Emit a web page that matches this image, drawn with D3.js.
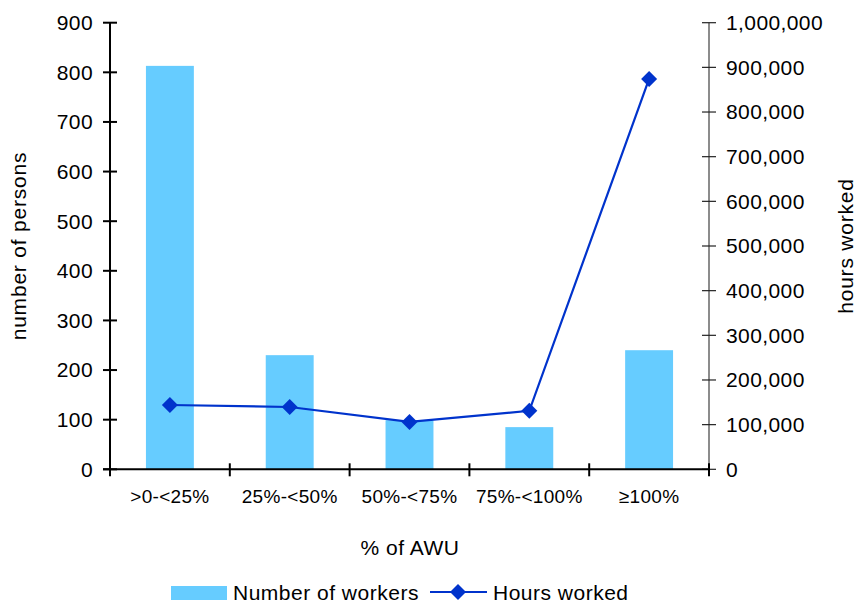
<!DOCTYPE html>
<html>
<head>
<meta charset="utf-8">
<script src="https://cdn.jsdelivr.net/npm/d3@7"></script>
<style>
  body { margin: 0; background: #fff; }
  svg text { font-family: "Liberation Sans", Arial, Helvetica, sans-serif; fill: #000; }
</style>
</head>
<body>
<div class="chart"></div>
<script>
var width = 861;
var height = 603;

// data
var categories = [">0-<25%", "25%-<50%", "50%-<75%", "75%-<100%", "\u2265100%"];
var workers = [813, 230, 99, 85, 240];
var hours = [144000, 139500, 106000, 131000, 874000];
var leftTicks = [0, 100, 200, 300, 400, 500, 600, 700, 800, 900];
var rightTicks = [0, 100000, 200000, 300000, 400000, 500000, 600000, 700000, 800000, 900000, 1000000];

var plot = { left: 110, right: 709, top: 22.7, bottom: 469.3 };

var svg = d3.select(".chart").append("svg").attr("width", width).attr("height", height);

var x = d3.scaleBand()
	.domain(categories)
	.range([plot.left, plot.right])
	.paddingInner(0.6)
	.paddingOuter(0.3);

var yLeft = d3.scaleLinear().domain([0, 900]).range([plot.bottom, plot.top]);
var yRight = d3.scaleLinear().domain([0, 1000000]).range([plot.bottom, plot.top]);

// small helper so all labels share the same look
function label(sel, size, spacing) {
	return sel.style("font-size", size + "px").style("letter-spacing", spacing + "px");
}

// bars
svg.selectAll("rect.bar")
	.data(workers)
	.enter().append("rect")
	.attr("class", "bar")
	.attr("x", function(d, i) { return x(categories[i]); })
	.attr("y", function(d) { return yLeft(d); })
	.attr("width", x.bandwidth())
	.attr("height", function(d) { return yLeft(0) - yLeft(d); })
	.attr("fill", "#66ccff");

// right axis (grey line, ticks crossing)
var rightG = svg.append("g").attr("transform", "translate(" + plot.right + ",0)");
rightG.append("line")
	.attr("y1", yRight(0)).attr("y2", yRight(1000000))
	.attr("stroke", "#666").attr("stroke-width", 1.5);
rightG.selectAll("line.tick").data(rightTicks).enter().append("line")
	.attr("x1", -7).attr("x2", 7)
	.attr("y1", function(d) { return yRight(d); })
	.attr("y2", function(d) { return yRight(d); })
	.attr("stroke", "#222").attr("stroke-width", 1.2);
label(rightG.selectAll("text").data(rightTicks).enter().append("text"), 21, 0.4)
	.attr("x", 17)
	.attr("y", function(d) { return yRight(d); })
	.attr("dy", "0.35em")
	.text(d3.format(","));

// left axis
var leftG = svg.append("g").attr("transform", "translate(" + plot.left + ",0)");
leftG.append("line")
	.attr("y1", yLeft(0)).attr("y2", yLeft(900))
	.attr("stroke", "#000").attr("stroke-width", 2);
leftG.selectAll("line.tick").data(leftTicks).enter().append("line")
	.attr("x1", -7).attr("x2", 7)
	.attr("y1", function(d) { return yLeft(d); })
	.attr("y2", function(d) { return yLeft(d); })
	.attr("stroke", "#000").attr("stroke-width", 2);
label(leftG.selectAll("text").data(leftTicks).enter().append("text"), 21, 0.4)
	.attr("x", -17)
	.attr("y", function(d) { return yLeft(d); })
	.attr("dy", "0.35em")
	.attr("text-anchor", "end")
	.text(function(d) { return d; });

// x axis
var step = x.step();
var bounds = d3.range(categories.length + 1).map(function(i) { return plot.left + i * step; });
svg.append("line")
	.attr("x1", plot.left - 7).attr("x2", plot.right)
	.attr("y1", plot.bottom).attr("y2", plot.bottom)
	.attr("stroke", "#000").attr("stroke-width", 2);
svg.selectAll("line.xtick").data(bounds).enter().append("line")
	.attr("x1", function(d) { return d; }).attr("x2", function(d) { return d; })
	.attr("y1", plot.bottom - 6).attr("y2", plot.bottom + 7)
	.attr("stroke", "#000").attr("stroke-width", 2);
label(svg.selectAll("text.xlabel").data(categories).enter().append("text"), 19, 0.3)
	.attr("x", function(d) { return x(d) + x.bandwidth() / 2; })
	.attr("y", 503)
	.attr("text-anchor", "middle")
	.text(function(d) { return d; });

// hours line
var line = d3.line()
	.x(function(d, i) { return x(categories[i]) + x.bandwidth() / 2; })
	.y(function(d) { return yRight(d); });
svg.append("path")
	.datum(hours)
	.attr("d", line)
	.attr("fill", "none")
	.attr("stroke", "#0033cc")
	.attr("stroke-width", 2.2);
svg.selectAll("path.marker").data(hours).enter().append("path")
	.attr("d", d3.symbol(d3.symbolSquare, 128))
	.attr("transform", function(d, i) {
		return "translate(" + (x(categories[i]) + x.bandwidth() / 2) + "," + yRight(d) + ") rotate(45)";
	})
	.attr("fill", "#0033cc");

// axis titles
label(svg.append("text"), 21, 0.8)
	.attr("transform", "translate(26,246) rotate(-90)")
	.attr("text-anchor", "middle")
	.text("number of persons");
label(svg.append("text"), 21, 0.8)
	.attr("transform", "translate(853,246) rotate(-90)")
	.attr("text-anchor", "middle")
	.text("hours worked");
label(svg.append("text"), 21, 0.5)
	.attr("x", 410).attr("y", 555)
	.attr("text-anchor", "middle")
	.text("% of AWU");

// legend
var legend = svg.append("g");
legend.append("rect")
	.attr("x", 171).attr("y", 586).attr("width", 56).attr("height", 14)
	.attr("fill", "#66ccff");
label(legend.append("text"), 21, 0.5)
	.attr("x", 233).attr("y", 600)
	.text("Number of workers");
legend.append("line")
	.attr("x1", 430).attr("x2", 487).attr("y1", 592).attr("y2", 592)
	.attr("stroke", "#0033cc").attr("stroke-width", 2.2);
legend.append("path")
	.attr("d", d3.symbol(d3.symbolSquare, 128))
	.attr("transform", "translate(458,592) rotate(45)")
	.attr("fill", "#0033cc");
label(legend.append("text"), 21, 0.5)
	.attr("x", 493).attr("y", 600)
	.text("Hours worked");
</script>
</body>
</html>
